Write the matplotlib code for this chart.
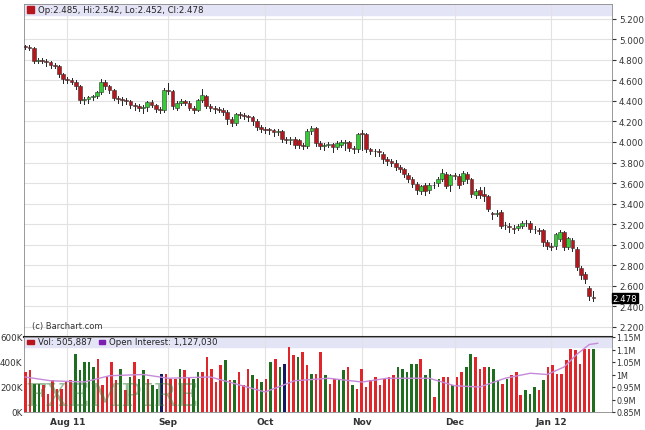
import numpy as np
import matplotlib
matplotlib.use("Agg")
import matplotlib.pyplot as plt
from matplotlib.patches import Rectangle

opens = [4.93,4.93,4.92,4.79,4.80,4.79,4.78,4.75,4.74,4.66,4.61,4.60,4.59,4.55,4.41,4.42,4.44,4.45,4.49,4.59,4.55,4.51,4.43,4.42,4.41,4.40,4.36,4.35,4.33,4.34,4.39,4.36,4.32,4.31,4.51,4.50,4.33,4.38,4.40,4.38,4.33,4.31,4.41,4.45,4.35,4.33,4.32,4.31,4.29,4.22,4.19,4.27,4.26,4.25,4.24,4.20,4.15,4.13,4.12,4.12,4.10,4.11,4.03,4.02,4.03,4.02,3.97,3.96,4.11,4.14,3.99,3.96,3.97,3.98,3.95,3.97,3.99,4.00,3.94,3.93,4.08,4.08,3.93,3.91,3.91,3.88,3.83,3.81,3.80,3.76,3.74,3.68,3.64,3.59,3.52,3.58,3.53,3.58,3.60,3.64,3.69,3.58,3.68,3.67,3.62,3.69,3.64,3.48,3.53,3.49,3.47,3.30,3.30,3.32,3.19,3.18,3.16,3.16,3.18,3.21,3.21,3.15,3.14,3.14,3.02,2.99,2.99,3.05,3.12,2.98,3.04,2.96,2.77,2.71,2.58,2.485]
closes = [4.93,4.92,4.79,4.80,4.79,4.78,4.75,4.74,4.66,4.61,4.60,4.59,4.55,4.41,4.42,4.44,4.45,4.49,4.59,4.55,4.51,4.43,4.42,4.41,4.40,4.36,4.35,4.33,4.34,4.39,4.36,4.32,4.31,4.51,4.50,4.35,4.38,4.40,4.38,4.33,4.31,4.41,4.46,4.35,4.33,4.32,4.31,4.29,4.22,4.19,4.27,4.26,4.25,4.24,4.20,4.15,4.13,4.12,4.12,4.10,4.11,4.03,4.02,4.03,3.97,3.97,3.96,4.11,4.14,3.99,3.96,3.97,3.98,3.95,3.99,4.00,4.00,3.94,3.93,4.08,4.08,3.93,3.91,3.91,3.90,3.83,3.81,3.80,3.76,3.74,3.69,3.64,3.59,3.53,3.57,3.52,3.58,3.58,3.64,3.70,3.57,3.68,3.67,3.58,3.70,3.64,3.49,3.52,3.48,3.47,3.35,3.30,3.31,3.18,3.19,3.17,3.15,3.18,3.21,3.21,3.15,3.15,3.13,3.02,2.99,2.98,3.10,3.12,2.98,3.06,2.97,2.78,2.70,2.66,2.50,2.478]
highs = [4.95,4.95,4.93,4.82,4.82,4.81,4.79,4.77,4.75,4.67,4.63,4.62,4.60,4.56,4.44,4.45,4.46,4.50,4.61,4.60,4.56,4.52,4.45,4.44,4.43,4.41,4.38,4.37,4.36,4.40,4.41,4.37,4.34,4.53,4.58,4.51,4.40,4.42,4.41,4.40,4.35,4.42,4.52,4.46,4.37,4.35,4.34,4.33,4.31,4.24,4.28,4.29,4.28,4.26,4.25,4.22,4.17,4.15,4.14,4.13,4.13,4.12,4.05,4.05,4.05,4.03,3.99,4.13,4.16,4.15,4.01,3.99,4.00,3.99,4.01,4.02,4.02,4.01,3.96,4.09,4.12,4.09,3.94,3.93,3.93,3.90,3.85,3.83,3.82,3.78,3.75,3.70,3.66,3.61,3.58,3.60,3.60,3.61,3.66,3.74,3.71,3.69,3.70,3.69,3.72,3.71,3.65,3.54,3.56,3.56,3.48,3.32,3.34,3.34,3.22,3.21,3.19,3.20,3.23,3.24,3.23,3.18,3.16,3.15,3.04,3.01,3.11,3.14,3.13,3.07,3.06,2.98,2.79,2.73,2.60,2.542]
lows = [4.91,4.90,4.77,4.77,4.77,4.74,4.72,4.72,4.63,4.58,4.58,4.57,4.52,4.38,4.37,4.38,4.41,4.43,4.47,4.52,4.48,4.41,4.38,4.36,4.37,4.33,4.31,4.30,4.28,4.30,4.34,4.29,4.28,4.29,4.47,4.32,4.31,4.36,4.36,4.31,4.28,4.30,4.39,4.33,4.30,4.28,4.29,4.26,4.18,4.16,4.17,4.23,4.22,4.20,4.17,4.12,4.10,4.09,4.08,4.06,4.07,4.00,3.99,3.98,3.94,3.94,3.93,3.94,4.08,3.96,3.93,3.92,3.95,3.90,3.93,3.95,3.92,3.91,3.89,3.90,3.92,3.90,3.88,3.86,3.86,3.80,3.78,3.77,3.73,3.71,3.66,3.61,3.56,3.49,3.49,3.48,3.50,3.55,3.57,3.62,3.55,3.52,3.64,3.55,3.59,3.60,3.46,3.45,3.45,3.42,3.33,3.25,3.28,3.16,3.15,3.12,3.11,3.14,3.16,3.18,3.12,3.11,3.10,2.99,2.96,2.95,2.96,3.03,2.95,2.96,2.94,2.75,2.66,2.62,2.46,2.452]

vol_k = [320,333,227,227,213,147,253,187,187,240,253,467,333,400,400,360,427,213,280,400,253,347,173,280,400,267,333,267,213,187,307,307,267,267,347,333,280,267,320,320,440,347,240,373,413,253,253,320,213,347,293,267,240,267,400,427,360,387,520,453,440,480,373,307,307,480,293,227,267,267,333,360,213,187,347,200,253,280,213,267,280,293,360,347,320,387,387,427,293,347,120,267,280,280,213,280,320,360,467,440,347,360,360,347,253,227,267,293,320,133,173,147,200,173,253,360,373,307,307,413,507,493,387,507,507,507]
vol_color = list("rrggrrrrrrrgggggrrrrrgrgrggrggNrrrgrrggrrrrrgrgrrrgrgrgrgNrrgrrgrrgrrggrgrrrrrrrrrgggggrggrgrrgrrggrrrgggrgrrrgggrgrrrrrrrr")
oi_idx = [0, 6, 14, 20, 28, 34, 44, 57, 64, 72, 80, 86, 96, 102, 108, 114, 120, 124, 128, 131, 134, 136]
oi_m = [0.99, 0.975, 0.97, 0.995, 1.0, 0.985, 0.99, 0.93, 0.975, 0.985, 0.97, 0.985, 0.985, 0.955, 0.95, 0.985, 1.005, 1.0, 1.03, 1.08, 1.12, 1.125]
price_ticks = [2.2, 2.4, 2.6, 2.8, 3.0, 3.2, 3.4, 3.6, 3.8, 4.0, 4.2, 4.4, 4.6, 4.8, 5.0, 5.2]
month_idx = [10, 34, 57, 80, 102, 125]
month_labels = ["Aug 11", "Sep", "Oct", "Nov", "Dec", "Jan 12"]

fig = plt.figure(figsize=(6.45, 4.31), dpi=100)
ax = fig.add_axes([24/645, 1-338/431, 588/645, 333/431])
axv = fig.add_axes([24/645, 1-413/431, 588/645, 75/431], sharex=ax)
grid_c = "#e2e2e2"
n = len(closes)
RED, GRN = "#b8161d", "#33cc33"
for i in range(n):
    o, c, h, l = opens[i], closes[i], highs[i], lows[i]
    col = GRN if c > o else RED
    ax.plot([i, i], [l, h], color="#222222", lw=0.7, zorder=3)
    body = max(abs(c - o), 0.004)
    ax.add_patch(Rectangle((i - 0.45, min(o, c)), 0.9, body, facecolor=col,
                           edgecolor="#333333", lw=0.4, zorder=4))
ax.set_xlim(-0.3, 139.4)
ax.set_ylim(2.098, 5.346)
ax.axhspan(5.235, 5.346, color="#e4e4f7", zorder=1)
ax.add_patch(Rectangle((0.5, 5.262), 1.5, 0.06, color=RED, zorder=5))
ax.text(3, 5.292, "Op:2.485, Hi:2.542, Lo:2.452, Cl:2.478", fontsize=6.2, va="center", color="#222222")
ax.text(1.5, 2.21, "(c) Barchart.com", fontsize=6, va="center", color="#333333")
ax.yaxis.tick_right()
ax.set_yticks(price_ticks)
ax.set_yticklabels([f"{t:.3f}" for t in price_ticks])
ax.tick_params(axis="y", labelsize=6.3, length=3, colors="#333333", pad=2)
ax.tick_params(axis="x", length=0, labelbottom=False)
ax.set_xticks(month_idx)
ax.grid(True, color=grid_c, lw=0.8, zorder=0)
ax.text(139.6, closes[-1], f"{closes[-1]:.3f}", fontsize=6.2, color="white", va="center",
        bbox=dict(boxstyle="square,pad=0.1", fc="black", ec="black"), clip_on=False)
for s in ax.spines.values():
    s.set_color("#888888"); s.set_linewidth(0.6)
ax.spines["bottom"].set_color("#222222"); ax.spines["bottom"].set_linewidth(1.5)

m = len(vol_k)
xs = np.arange(m) * (n - 1) / (m - 1)
cmap = {"r": "#e0262a", "g": "#1f6e1f", "N": "#101a60"}
axv.bar(xs, np.array(vol_k) * 1000, width=0.62, color=[cmap[c] for c in vol_color[:m]], zorder=3)
axv.set_ylim(0, 600000)
axv.axhspan(520000, 600000, color="#e4e4f7", zorder=1)
axv.set_yticks([0, 200000, 400000, 600000])
axv.set_yticklabels(["0K", "200K", "400K", "600K"])
axv.tick_params(axis="y", labelsize=6.3, length=0, pad=1, colors="#333333")
axv.set_xticks(month_idx)
axv.set_xticklabels(month_labels, fontweight="bold")
axv.tick_params(axis="x", labelsize=6.5, length=0, colors="#333333")
axv.grid(True, axis="x", color=grid_c, lw=0.8, zorder=0)
axv.add_patch(Rectangle((0.5, 545000), 1.5, 35000, color=RED, zorder=5))
axv.text(3, 562000, "Vol: 505,887", fontsize=6.2, va="center", color="#222222", zorder=5)
axv.add_patch(Rectangle((17.5, 545000), 1.5, 35000, color="#7a1fb0", zorder=5))
axv.text(20, 562000, "Open Interest: 1,127,030", fontsize=6.2, va="center", color="#222222", zorder=5)
axv.text(0, 120000, "FXEMPIRE", fontsize=22, family="DejaVu Serif", color="#3a7a3a", alpha=0.5, zorder=6, va="center")
for s in axv.spines.values():
    s.set_color("#888888"); s.set_linewidth(0.6)
axo = axv.twinx()
axo.plot(oi_idx, np.array(oi_m) * 1e6, color="#c58ad8", lw=1.0, zorder=5)
axo.set_ylim(0.85e6, 1.15e6)
axo.set_yticks([0.85e6, 0.9e6, 0.95e6, 1.0e6, 1.05e6, 1.1e6, 1.15e6])
axo.set_yticklabels(["0.85M", "0.9M", "0.95M", "1M", "1.05M", "1.1M", "1.15M"])
axo.tick_params(axis="y", labelsize=5.8, length=2, pad=1, colors="#333333")
for s in axo.spines.values():
    s.set_visible(False)
fig.savefig("out.png", dpi=100, facecolor="white")
